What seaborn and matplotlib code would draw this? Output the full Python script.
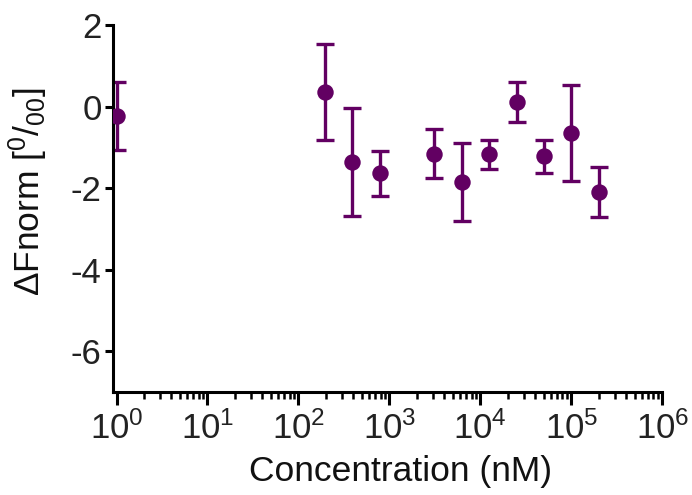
import numpy as np
import pandas as pd
import matplotlib
matplotlib.use("Agg")
import matplotlib.pyplot as plt
import seaborn as sns
from matplotlib.ticker import LogLocator, FixedLocator

# Data
concentration_nM = [1, 195.3, 390.6, 781.3, 3125, 6250, 12500, 25000, 50000, 100000, 200000]
fnorm_delta = [-0.23, 0.35, -1.36, -1.64, -1.16, -1.85, -1.17, 0.11, -1.22, -0.65, -2.10]
fnorm_error = [0.83, 1.18, 1.33, 0.56, 0.60, 0.96, 0.35, 0.49, 0.40, 1.17, 0.62]

x_ticks = [1, 10, 100, 1000, 10000, 100000, 1000000]
y_ticks = [-6, -4, -2, 0, 2]

df = pd.DataFrame({"conc": concentration_nM, "dF": fnorm_delta, "err": fnorm_error})

sns.set_theme(style="ticks")
plt.rcParams["font.family"] = ["Liberation Sans", "DejaVu Sans"]
plt.rcParams["mathtext.fontset"] = "custom"
plt.rcParams["mathtext.rm"] = "Liberation Sans"
plt.rcParams["mathtext.it"] = "Liberation Sans:italic"
plt.rcParams["mathtext.bf"] = "Liberation Sans:bold"
plt.rcParams["axes.unicode_minus"] = False

color = "#620062"

fig = plt.figure(figsize=(6.92, 4.95), dpi=100)
ax = fig.add_axes([0.163, 0.208, 0.794, 0.7415])

ax.errorbar(df["conc"], df["dF"], yerr=df["err"], fmt="none", ecolor=color,
            elinewidth=2.4, capsize=6.3, capthick=2.4, zorder=2)
sns.scatterplot(data=df, x="conc", y="dF", ax=ax, color=color, s=140,
                edgecolor=color, linewidth=0, zorder=3, legend=False)

ax.set_xscale("log")
ax.set_xlim(0.91, 1e6)
ax.set_ylim(-7, 2)
ax.xaxis.set_major_locator(FixedLocator(x_ticks))
ax.xaxis.set_minor_locator(LogLocator(base=10, subs=np.arange(2, 10), numticks=20))
ax.set_xticklabels([r"$\mathregular{10^{%d}}$" % int(np.log10(v)) for v in x_ticks])
ax.set_yticks(y_ticks)
ax.set_yticklabels([str(v) for v in y_ticks])

for s in ["top", "right"]:
    ax.spines[s].set_visible(False)
for s in ["left", "bottom"]:
    ax.spines[s].set_linewidth(2.2)
    ax.spines[s].set_color("black")

ax.tick_params(axis="both", which="major", width=2.2, length=6, labelsize=25,
               color="black", labelcolor="#222222", pad=2)
ax.tick_params(axis="x", which="major", length=9, pad=5)
ax.tick_params(axis="x", which="minor", width=1.8, length=5, color="black")

ax.set_xlabel("Concentration (nM)", fontsize=25.5, color="#111111")
ax.set_ylabel(r"ΔFnorm [$\mathregular{^{0}/_{00}}$]", fontsize=25.5, color="#111111")
ax.xaxis.set_label_coords(0.523, -0.172)
ax.yaxis.set_label_coords(-0.115, 0.545)

fig.savefig("out.png", dpi=100)
